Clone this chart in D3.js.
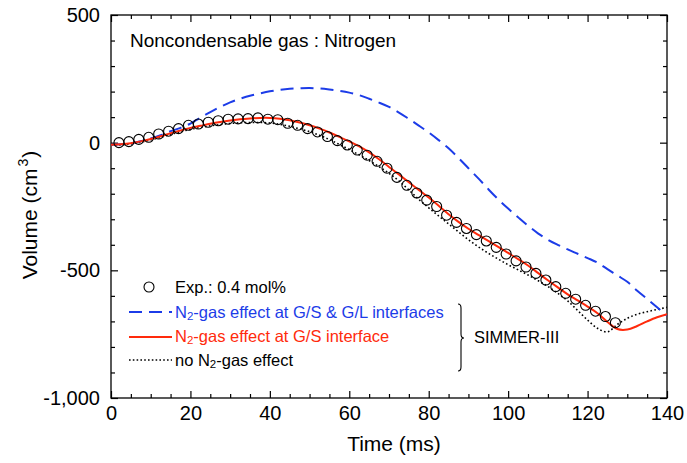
<!DOCTYPE html>
<html>
<head>
<meta charset="utf-8">
<script src="https://cdn.jsdelivr.net/npm/d3@7"></script>
<style>
  html, body { margin: 0; padding: 0; background: #fff; }
  svg { display: block; font-family: "Liberation Sans", Arial, sans-serif; }
</style>
</head>
<body>
<svg id="chart" width="687" height="463"></svg>
<script>
// ---- data ----
const curveTime = d3.range(0, 140.01, 2.5);
const bothInterfaces = [-8, -6, -2, 6, 16, 29, 45, 58, 75, 98, 120, 140, 158, 172, 184, 193, 201, 207, 211, 213, 214, 212, 208, 203, 196, 186, 172, 157, 140, 118, 93, 67, 40, 10, -22, -60, -100, -140, -182, -222, -258, -292, -325, -355, -380, -400, -418, -435, -452, -470, -495, -520, -545, -580, -612, -645, -678];
const gsInterface = [-8, -6, -2, 5, 14, 25, 37, 48, 58, 66, 74, 81, 87, 92, 95, 97, 97, 94, 88, 79, 68, 55, 40, 23, 5, -15, -38, -65, -95, -125, -155, -185, -215, -247, -280, -310, -337, -361, -385, -408, -432, -456, -481, -510, -539, -567, -594, -618, -642, -668, -702, -730, -732, -718, -700, -684, -672];
const noEffect = [-10, -9, -5, 2, 11, 21, 32, 43, 52, 60, 66, 71, 75, 78, 79, 79, 77, 72, 64, 54, 43, 29, 12, -7, -27, -48, -70, -94, -120, -150, -185, -222, -255, -287, -318, -350, -380, -408, -433, -456, -478, -498, -518, -540, -563, -590, -620, -657, -695, -727, -741, -712, -688, -672, -662, -653, -645];
const expTime = d3.range(2, 127.01, 2.5);
const expVolume = [0, 4, 13, 21, 34, 45, 55, 68, 73, 80, 86, 92, 93, 94, 97, 92, 90, 76, 68, 55, 42, 24, 8, -9, -29, -49, -73, -100, -136, -167, -197, -225, -250, -284, -312, -336, -360, -385, -410, -436, -463, -487, -512, -538, -564, -590, -613, -637, -660, -681, -705];
const xTicks = [0, 20, 40, 60, 80, 100, 120, 140];
const yTicks = [-1000, -500, 0, 500];
const legendLabels = ["Exp.: 0.4 mol%", "-gas effect at G/S & G/L interfaces", "-gas effect at G/S interface", "-gas effect"];

// ---- layout ----
const L = 111, R = 667, T = 15, B = 398;
const BLUE = "#1c3ce8", RED = "#ff2a0c";
const svg = d3.select("#chart");
svg.append("rect").attr("width", 687).attr("height", 463).attr("fill", "#fff");

const x = d3.scaleLinear().domain([0, 140]).range([L, R]);
const y = d3.scaleLinear().domain([-1000, 500]).range([B, T]);

const minorX = d3.range(0, 140.01, 5).filter(v => !xTicks.includes(v));
const minorY = d3.range(-1000, 500.01, 100).filter(v => !yTicks.includes(v));
const yFmt = v => d3.format(",")(v).replace("\u2212", "-");

function styleAxis(g) {
  g.select(".domain").remove();
  g.selectAll("line").attr("stroke", "#000").attr("stroke-width", 1.2);
  g.selectAll("text").attr("fill", "#000").attr("font-size", 20)
    .attr("font-family", "'Liberation Sans', Arial, sans-serif");
}

// bottom
svg.append("g").attr("transform", `translate(0,${B})`)
  .call(d3.axisBottom(x).tickValues(xTicks).tickSizeInner(-7).tickSizeOuter(0).tickPadding(8).tickFormat(d3.format("d")))
  .call(styleAxis);
svg.append("g").attr("transform", `translate(0,${B})`)
  .call(d3.axisBottom(x).tickValues(minorX).tickSizeInner(-4).tickSizeOuter(0).tickFormat(""))
  .call(styleAxis);
// top
svg.append("g").attr("transform", `translate(0,${T})`)
  .call(d3.axisTop(x).tickValues(xTicks).tickSizeInner(-7).tickSizeOuter(0).tickFormat(""))
  .call(styleAxis);
svg.append("g").attr("transform", `translate(0,${T})`)
  .call(d3.axisTop(x).tickValues(minorX).tickSizeInner(-4).tickSizeOuter(0).tickFormat(""))
  .call(styleAxis);
// left
svg.append("g").attr("transform", `translate(${L},0)`)
  .call(d3.axisLeft(y).tickValues(yTicks).tickSizeInner(-7).tickSizeOuter(0).tickPadding(11).tickFormat(yFmt))
  .call(styleAxis);
svg.append("g").attr("transform", `translate(${L},0)`)
  .call(d3.axisLeft(y).tickValues(minorY).tickSizeInner(-4).tickSizeOuter(0).tickFormat(""))
  .call(styleAxis);
// right
svg.append("g").attr("transform", `translate(${R},0)`)
  .call(d3.axisRight(y).tickValues(yTicks).tickSizeInner(-7).tickSizeOuter(0).tickFormat(""))
  .call(styleAxis);
svg.append("g").attr("transform", `translate(${R},0)`)
  .call(d3.axisRight(y).tickValues(minorY).tickSizeInner(-4).tickSizeOuter(0).tickFormat(""))
  .call(styleAxis);

// frame
svg.append("rect").attr("x", L).attr("y", T).attr("width", R - L).attr("height", B - T)
  .attr("fill", "none").attr("stroke", "#000").attr("stroke-width", 1.3);

// axis titles
svg.append("text").attr("x", 394).attr("y", 451).attr("text-anchor", "middle")
  .attr("font-size", 21).text("Time (ms)");
const yt = svg.append("text").attr("transform", `translate(37,215) rotate(-90)`)
  .attr("text-anchor", "middle").attr("font-size", 21);
yt.append("tspan").text("Volume (cm");
yt.append("tspan").attr("font-size", 14).attr("dy", -9).attr("dx", 2).text("3");
yt.append("tspan").attr("dy", 9).attr("dx", 1).text(")");

// in-plot title
svg.append("text").attr("x", 130).attr("y", 47).attr("font-size", 19).text("Noncondensable gas : Nitrogen");

// ---- curves ----
svg.append("clipPath").attr("id", "clip").append("rect")
  .attr("x", L).attr("y", T).attr("width", R - L).attr("height", B - T);
const plot = svg.append("g").attr("clip-path", "url(#clip)");
const line = d3.line().x(d => x(d[0])).y(d => y(d[1])).curve(d3.curveCatmullRom.alpha(0.5));

plot.append("path").datum(curveTime.map((t, i) => [t, noEffect[i]]))
  .attr("d", line).attr("fill", "none").attr("stroke", "#000").attr("stroke-width", 1.6)
  .attr("stroke-dasharray", "1.6,2.4");
plot.append("path").datum(curveTime.map((t, i) => [t, bothInterfaces[i]]))
  .attr("d", line).attr("fill", "none").attr("stroke", BLUE).attr("stroke-width", 2)
  .attr("stroke-dasharray", "13,7");
plot.append("path").datum(curveTime.map((t, i) => [t, gsInterface[i]]))
  .attr("d", line).attr("fill", "none").attr("stroke", RED).attr("stroke-width", 2);

plot.selectAll("circle.exp").data(expTime.map((t, i) => [t, expVolume[i]])).enter()
  .append("circle").attr("class", "exp")
  .attr("cx", d => x(d[0])).attr("cy", d => y(d[1])).attr("r", 5)
  .attr("fill", "none").attr("stroke", "#000").attr("stroke-width", 1.1);

// ---- legend ----
const lg = svg.append("g").attr("font-size", 16.5);
lg.append("circle").attr("cx", 149).attr("cy", 287).attr("r", 5)
  .attr("fill", "none").attr("stroke", "#000").attr("stroke-width", 1.1);
lg.append("text").attr("x", 175).attr("y", 293).text(legendLabels[0]);

function n2label(yPos, color, prefix, rest) {
  const t = lg.append("text").attr("x", 175).attr("y", yPos).attr("fill", color);
  if (prefix) t.append("tspan").text(prefix);
  t.append("tspan").text("N");
  t.append("tspan").attr("font-size", 11.5).attr("dy", 2).text("2");
  t.append("tspan").attr("dy", -2).text(rest);
}
lg.append("line").attr("x1", 129).attr("x2", 172).attr("y1", 312).attr("y2", 312)
  .attr("stroke", BLUE).attr("stroke-width", 2).attr("stroke-dasharray", "13,7");
n2label(318, BLUE, "", legendLabels[1]);
lg.append("line").attr("x1", 129).attr("x2", 172).attr("y1", 337).attr("y2", 337)
  .attr("stroke", RED).attr("stroke-width", 2);
n2label(342, RED, "", legendLabels[2]);
lg.append("line").attr("x1", 129).attr("x2", 172).attr("y1", 360).attr("y2", 360)
  .attr("stroke", "#000").attr("stroke-width", 1.4).attr("stroke-dasharray", "1.6,2.2");
n2label(366, "#000", "no ", legendLabels[3]);

// brace
const bx = 461, by0 = 304, by1 = 371, bm = 338;
lg.append("path")
  .attr("d", `M${bx - 3},${by0} Q${bx},${by0} ${bx},${by0 + 4} L${bx},${bm - 4} Q${bx},${bm} ${bx + 3},${bm} Q${bx},${bm} ${bx},${bm + 4} L${bx},${by1 - 4} Q${bx},${by1} ${bx - 3},${by1}`)
  .attr("fill", "none").attr("stroke", "#000").attr("stroke-width", 1.1);
lg.append("text").attr("x", 474).attr("y", 343).text("SIMMER-III");
</script>
</body>
</html>
